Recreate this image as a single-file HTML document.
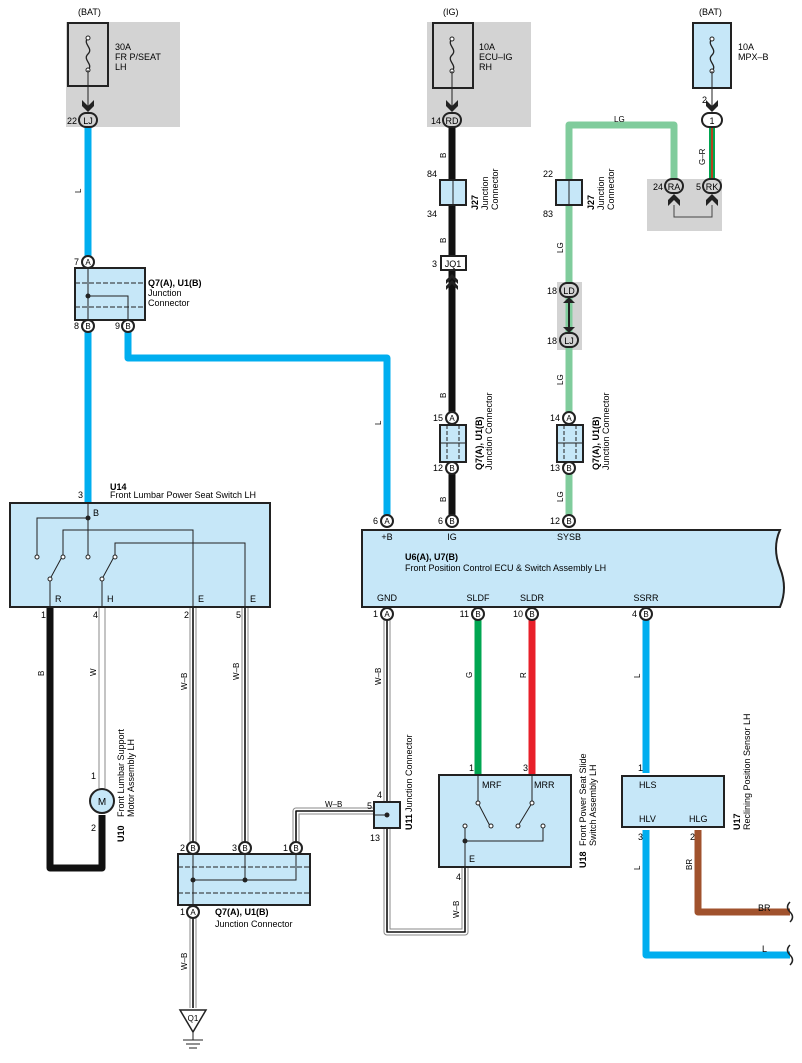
<!DOCTYPE html>
<html><head><meta charset="utf-8"><style>
body{margin:0;background:#fff}
svg{display:block;font-family:"Liberation Sans",sans-serif;font-size:9px}
.b{font-weight:bold}
</style></head><body>
<svg width="802" height="1063" viewBox="0 0 802 1063" xmlns="http://www.w3.org/2000/svg">
<defs>
<g id="fuse"><path d="M0,-16 c-6,6 6,10 0,16 c-6,6 6,10 0,16" fill="none" stroke="#222" stroke-width="1.3"/><circle cx="0" cy="-16" r="2" fill="#fff" stroke="#222"/><circle cx="0" cy="16" r="2" fill="#fff" stroke="#222"/></g>
</defs>
<rect x="66" y="22" width="114" height="105" fill="#d3d3d3"/>
<rect x="427" y="22" width="104" height="105" fill="#d3d3d3"/>
<rect x="647" y="179" width="75" height="52" fill="#d3d3d3"/>
<rect x="557" y="282" width="25" height="68" fill="#d3d3d3"/>
<rect x="68" y="23" width="40" height="63" fill="#d3d3d3" stroke="#222" stroke-width="2"/>
<use href="#fuse" x="88" y="54"/>
<line x1="88" y1="70" x2="88" y2="108" stroke="#222"/>
<rect x="433" y="23" width="40" height="65" fill="#d3d3d3" stroke="#222" stroke-width="2"/>
<use href="#fuse" x="452" y="55"/>
<line x1="452" y1="71" x2="452" y2="108" stroke="#222"/>
<rect x="693" y="23" width="38" height="65" fill="#c6e7f8" stroke="#222" stroke-width="2"/>
<use href="#fuse" x="712" y="55"/>
<line x1="712" y1="71" x2="712" y2="108" stroke="#222"/>
<text x="78" y="15">(BAT)</text><text x="115" y="50">30A</text><text x="115" y="60">FR P/SEAT</text><text x="115" y="70">LH</text>
<text x="443" y="15">(IG)</text><text x="479" y="50">10A</text><text x="479" y="60">ECU–IG</text><text x="479" y="70">RH</text>
<text x="699" y="15">(BAT)</text><text x="738" y="50">10A</text><text x="738" y="60">MPX–B</text>
<g fill="none" stroke-linejoin="round">
<path d="M88,126 V505" stroke="#00aeef" stroke-width="7"/>
<path d="M128,332 V358 H387 V515" stroke="#00aeef" stroke-width="7"/>
<path d="M452,126 V515" stroke="#111" stroke-width="7"/>
<path d="M674,180 V125 H569 V515" stroke="#80cc9c" stroke-width="7"/>
<path d="M712,126 V180" stroke="#00a651" stroke-width="6"/><path d="M712,126 V180" stroke="#e21" stroke-width="1.5"/>
<path d="M478,620 V775" stroke="#00a651" stroke-width="7"/>
<path d="M532,620 V775" stroke="#e8202a" stroke-width="7"/>
<path d="M646,620 V773 M646,830 V955 H790" stroke="#00aeef" stroke-width="7"/>
<path d="M698,830 V912 H790" stroke="#a0522d" stroke-width="7"/>
<path d="M50,607 V868 H102 V815" stroke="#111" stroke-width="7"/>
<path d="M102,607 V788" stroke="#888" stroke-width="7"/><path d="M102,607 V788" stroke="#fff" stroke-width="5"/>
<g>
<path d="M193,607 V845 M245,607 V845 M193,912 V1008 M296,845 V811 H374 M387,620 V802 M387,828 V932 H465 V868" stroke="#888" stroke-width="7"/>
<path d="M193,607 V845 M245,607 V845 M193,912 V1008 M296,845 V811 H374 M387,620 V802 M387,828 V932 H465 V868" stroke="#fff" stroke-width="5"/>
<path d="M193,607 V845 M245,607 V845 M193,912 V1008 M296,845 V811 H374 M387,620 V802 M387,828 V932 H465 V868" stroke="#111" stroke-width="1.6"/>
</g>
</g>
<g fill="#222"><path d="M82,100 l6,6 6,-6 v6 l-6,6 -6,-6z"/><path d="M446,100 l6,6 6,-6 v6 l-6,6 -6,-6z"/><path d="M706,100 l6,6 6,-6 v6 l-6,6 -6,-6z"/>
<path d="M668,206 l6,-6 6,6 v-6 l-6,-6 -6,6z"/><path d="M706,206 l6,-6 6,6 v-6 l-6,-6 -6,6z"/>
<path d="M446,284 l6,-6 6,6 v-4 l-6,-6 -6,6z"/><path d="M446,290 l6,-6 6,6 v-4 l-6,-6 -6,6z"/>
<path d="M563,303 l6,-6 6,6z"/><path d="M563,327 l6,6 6,-6z"/></g>
<path d="M674,205 V217 H712 V205" fill="none" stroke="#444"/>
<line x1="569" y1="300" x2="569" y2="330" stroke="#222" stroke-width="2"/>
<g stroke="#222" stroke-width="2" fill="#d3d3d3">
<rect x="79" y="113" width="18" height="14" rx="7"/><rect x="443" y="113" width="18" height="14" rx="7"/>
<rect x="702" y="113" width="20" height="14" rx="7" fill="#fff"/>
<rect x="665" y="179" width="18" height="14" rx="7"/><rect x="703" y="179" width="18" height="14" rx="7"/>
<rect x="560" y="283" width="18" height="14" rx="7"/><rect x="560" y="333" width="18" height="14" rx="7"/>
</g>
<g text-anchor="middle"><text x="88" y="124">LJ</text><text x="452" y="124">RD</text><text x="712" y="124">1</text><text x="674" y="190">RA</text><text x="712" y="190">RK</text><text x="569" y="294">LD</text><text x="569" y="344">LJ</text></g>
<g text-anchor="end"><text x="77" y="124">22</text><text x="441" y="124">14</text><text x="707" y="103">2</text><text x="663" y="190">24</text><text x="701" y="190">5</text><text x="557" y="294">18</text><text x="557" y="344">18</text></g>
<g stroke="#222" stroke-width="2" fill="#c6e7f8"><rect x="440" y="180" width="26" height="25"/><rect x="556" y="180" width="26" height="25"/>
<rect x="441" y="256" width="25" height="14" fill="#fff"/></g>
<line x1="453" y1="180" x2="453" y2="205" stroke="#222"/><line x1="569" y1="180" x2="569" y2="205" stroke="#222"/>
<text x="453" y="267" text-anchor="middle">JQ1</text><text x="437" y="267" text-anchor="end">3</text>
<text x="437" y="177" text-anchor="end">84</text><text x="437" y="217" text-anchor="end">34</text>
<text x="553" y="177" text-anchor="end">22</text><text x="553" y="217" text-anchor="end">83</text>
<g transform="translate(478,210) rotate(-90)"><text class="b">J27</text><text y="10">Junction</text><text y="20">Connector</text></g>
<g transform="translate(594,210) rotate(-90)"><text class="b">J27</text><text y="10">Junction</text><text y="20">Connector</text></g>
<g stroke="#222" stroke-width="2" fill="#c6e7f8"><rect x="440" y="425" width="26" height="37"/><rect x="557" y="425" width="26" height="37"/></g>
<g stroke="#222" stroke-dasharray="4,2"><line x1="447" y1="425" x2="447" y2="462"/><line x1="459" y1="425" x2="459" y2="462"/><line x1="564" y1="425" x2="564" y2="462"/><line x1="576" y1="425" x2="576" y2="462"/></g>
<line x1="440" y1="443" x2="466" y2="443" stroke="#222"/><line x1="557" y1="443" x2="583" y2="443" stroke="#222"/>
<g transform="translate(482,470) rotate(-90)"><text class="b">Q7(A), U1(B)</text><text y="10">Junction Connector</text></g>
<g transform="translate(599,470) rotate(-90)"><text class="b">Q7(A), U1(B)</text><text y="10">Junction Connector</text></g>
<rect x="75" y="268" width="70" height="52" fill="#c6e7f8" stroke="#222" stroke-width="2"/>
<g stroke="#222" stroke-dasharray="5,2"><line x1="75" y1="283" x2="145" y2="283"/><line x1="75" y1="307" x2="145" y2="307"/></g>
<path d="M88,268 V320 M88,296 H128 V320" fill="none" stroke="#222"/><circle cx="88" cy="296" r="2.5" fill="#222"/>
<text x="148" y="286" class="b">Q7(A), U1(B)</text><text x="148" y="296">Junction</text><text x="148" y="306">Connector</text>
<rect x="10" y="503" width="260" height="104" fill="#c6e7f8" stroke="#222" stroke-width="2"/>
<g fill="none" stroke="#222"><path d="M37,555 V518 H88 V555 M88,503 V518 M63,555 V530 H193 V607 M115,555 V543 H245 V607 M50,607 V579 M102,607 V579 M50,579 L63,555 M102,579 L115,555"/></g>
<circle cx="88" cy="518" r="2.5" fill="#222"/>
<g fill="#fff" stroke="#222"><circle cx="37" cy="557" r="2"/><circle cx="63" cy="557" r="2"/><circle cx="88" cy="557" r="2"/><circle cx="115" cy="557" r="2"/><circle cx="50" cy="579" r="2"/><circle cx="102" cy="579" r="2"/></g>
<text x="93" y="516">B</text><text x="55" y="602">R</text><text x="107" y="602">H</text><text x="198" y="602">E</text><text x="250" y="602">E</text>
<text x="110" y="490" class="b">U14</text><text x="110" y="498">Front Lumbar Power Seat Switch LH</text>
<text x="83" y="498" text-anchor="end">3</text>
<g text-anchor="end"><text x="46" y="618">1</text><text x="98" y="618">4</text><text x="189" y="618">2</text><text x="241" y="618">5</text></g>
<path d="M362,530 H780 Q772,548 780,568 Q788,588 780,607 H362Z" fill="#c6e7f8" stroke="#222" stroke-width="2"/>
<g text-anchor="middle"><text x="387" y="540">+B</text><text x="452" y="540">IG</text><text x="569" y="540">SYSB</text>
<text x="387" y="601">GND</text><text x="478" y="601">SLDF</text><text x="532" y="601">SLDR</text><text x="646" y="601">SSRR</text></g>
<text x="405" y="560" class="b">U6(A), U7(B)</text><text x="405" y="571">Front Position Control ECU &amp; Switch Assembly LH</text>
<g stroke="#222" stroke-width="2" fill="#fff">
<circle cx="88" cy="262" r="6"/><circle cx="88" cy="326" r="6"/><circle cx="128" cy="326" r="6"/>
<circle cx="452" cy="418" r="6"/><circle cx="452" cy="468" r="6"/><circle cx="569" cy="418" r="6"/><circle cx="569" cy="468" r="6"/>
<circle cx="387" cy="521" r="6"/><circle cx="452" cy="521" r="6"/><circle cx="569" cy="521" r="6"/>
<circle cx="387" cy="614" r="6"/><circle cx="478" cy="614" r="6"/><circle cx="532" cy="614" r="6"/><circle cx="646" cy="614" r="6"/>
<circle cx="193" cy="848" r="6"/><circle cx="245" cy="848" r="6"/><circle cx="296" cy="848" r="6"/><circle cx="193" cy="912" r="6"/>
</g>
<g text-anchor="middle" font-size="8"><text x="88" y="265">A</text><text x="88" y="329">B</text><text x="128" y="329">B</text>
<text x="452" y="421">A</text><text x="452" y="471">B</text><text x="569" y="421">A</text><text x="569" y="471">B</text>
<text x="387" y="524">A</text><text x="452" y="524">B</text><text x="569" y="524">B</text>
<text x="387" y="617">A</text><text x="478" y="617">B</text><text x="532" y="617">B</text><text x="646" y="617">B</text>
<text x="193" y="851">B</text><text x="245" y="851">B</text><text x="296" y="851">B</text><text x="193" y="915">A</text></g>
<g text-anchor="end"><text x="79" y="265">7</text><text x="79" y="329">8</text><text x="120" y="329">9</text>
<text x="443" y="421">15</text><text x="443" y="471">12</text><text x="560" y="421">14</text><text x="560" y="471">13</text>
<text x="378" y="524">6</text><text x="443" y="524">6</text><text x="560" y="524">12</text>
<text x="378" y="617">1</text><text x="469" y="617">11</text><text x="523" y="617">10</text><text x="637" y="617">4</text>
<text x="185" y="851">2</text><text x="237" y="851">3</text><text x="288" y="851">1</text><text x="185" y="915">1</text></g>
<circle cx="102" cy="801" r="12" fill="#c6e7f8" stroke="#222" stroke-width="2"/><text x="102" y="805" text-anchor="middle" font-size="10">M</text>
<text x="96" y="779" text-anchor="end">1</text><text x="96" y="831" text-anchor="end">2</text>
<g transform="translate(124,842) rotate(-90)"><text class="b">U10</text><text x="25">Front Lumbar Support</text><text x="25" y="10">Motor Assembly LH</text></g>
<rect x="178" y="854" width="132" height="51" fill="#c6e7f8" stroke="#222" stroke-width="2"/>
<g stroke="#222" stroke-dasharray="5,2"><line x1="178" y1="867" x2="310" y2="867"/><line x1="178" y1="893" x2="310" y2="893"/></g>
<path d="M193,854 V905 M193,880 H296 V854 M245,854 V880" fill="none" stroke="#222"/><circle cx="193" cy="880" r="2.5" fill="#222"/><circle cx="245" cy="880" r="2.5" fill="#222"/>
<text x="215" y="915" class="b">Q7(A), U1(B)</text><text x="215" y="927">Junction Connector</text>
<path d="M180,1010 H206 L193,1032Z" fill="#fff" stroke="#222" stroke-width="1.5"/><text x="193" y="1021" text-anchor="middle" font-size="8">Q1</text>
<g stroke="#222"><line x1="193" y1="1032" x2="193" y2="1040"/><line x1="183" y1="1040" x2="203" y2="1040"/><line x1="186" y1="1044" x2="200" y2="1044"/><line x1="189" y1="1048" x2="197" y2="1048"/></g>
<rect x="374" y="802" width="26" height="26" fill="#c6e7f8" stroke="#222" stroke-width="2"/><circle cx="387" cy="815" r="2.5" fill="#222"/>
<line x1="374" y1="815" x2="387" y2="815" stroke="#222"/>
<text x="372" y="809" text-anchor="end">5</text><text x="382" y="798" text-anchor="end">4</text><text x="380" y="841" text-anchor="end">13</text>
<g transform="translate(412,830) rotate(-90)"><text class="b">U11</text><text x="18">Junction Connector</text></g>
<rect x="439" y="775" width="132" height="92" fill="#c6e7f8" stroke="#222" stroke-width="2"/>
<g fill="none" stroke="#222"><path d="M478,775 V803 L490,826 M532,775 V803 L518,826 M465,826 V867 M465,841 H543 V826"/></g>
<g fill="#fff" stroke="#222"><circle cx="478" cy="803" r="2"/><circle cx="532" cy="803" r="2"/><circle cx="465" cy="826" r="2"/><circle cx="491" cy="826" r="2"/><circle cx="518" cy="826" r="2"/><circle cx="543" cy="826" r="2"/></g>
<circle cx="465" cy="841" r="2.5" fill="#222"/>
<text x="482" y="788">MRF</text><text x="534" y="788">MRR</text><text x="469" y="862">E</text>
<text x="474" y="771" text-anchor="end">1</text><text x="528" y="771" text-anchor="end">3</text><text x="461" y="880" text-anchor="end">4</text>
<g transform="translate(586,868) rotate(-90)"><text class="b">U18</text><text x="22">Front Power Seat Slide</text><text x="22" y="10">Switch Assembly LH</text></g>
<rect x="622" y="776" width="102" height="51" fill="#c6e7f8" stroke="#222" stroke-width="2"/>
<text x="639" y="788">HLS</text><text x="639" y="822">HLV</text><text x="689" y="822">HLG</text>
<text x="643" y="771" text-anchor="end">1</text><text x="643" y="840" text-anchor="end">3</text><text x="695" y="840" text-anchor="end">2</text>
<g transform="translate(740,830) rotate(-90)"><text class="b">U17</text><text y="10">Reclining Position Sensor LH</text></g>
<g fill="none" stroke="#222" stroke-width="1.5"><path d="M790,902 q-5,5 0,10 q5,5 0,10"/><path d="M790,945 q-5,5 0,10 q5,5 0,10"/></g>
<text x="758" y="911">BR</text><text x="762" y="952">L</text>
<g font-size="8">
<text transform="translate(81,193) rotate(-90)">L</text>
<text transform="translate(381,425) rotate(-90)">L</text>
<text transform="translate(446,158) rotate(-90)">B</text>
<text transform="translate(446,243) rotate(-90)">B</text>
<text transform="translate(446,398) rotate(-90)">B</text>
<text transform="translate(446,502) rotate(-90)">B</text>
<text transform="translate(563,253) rotate(-90)">LG</text>
<text transform="translate(563,385) rotate(-90)">LG</text>
<text transform="translate(563,502) rotate(-90)">LG</text>
<text x="614" y="122">LG</text>
<text transform="translate(705,165) rotate(-90)">G–R</text>
<text transform="translate(44,676) rotate(-90)">B</text>
<text transform="translate(96,676) rotate(-90)">W</text>
<text transform="translate(187,690) rotate(-90)">W–B</text>
<text transform="translate(239,680) rotate(-90)">W–B</text>
<text transform="translate(187,970) rotate(-90)">W–B</text>
<text transform="translate(381,685) rotate(-90)">W–B</text>
<text transform="translate(459,918) rotate(-90)">W–B</text>
<text x="325" y="807">W–B</text>
<text transform="translate(472,678) rotate(-90)">G</text>
<text transform="translate(526,678) rotate(-90)">R</text>
<text transform="translate(640,678) rotate(-90)">L</text>
<text transform="translate(640,870) rotate(-90)">L</text>
<text transform="translate(692,870) rotate(-90)">BR</text>
</g>
</svg>
</body></html>
